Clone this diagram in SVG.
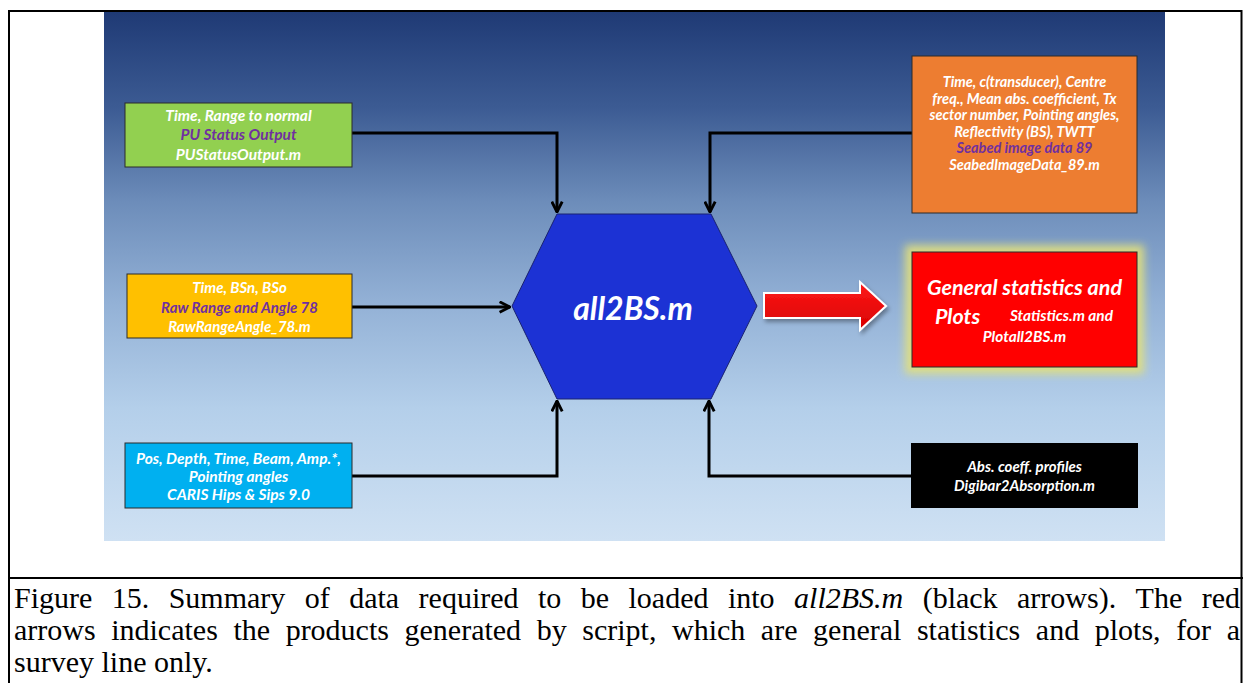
<svg xmlns="http://www.w3.org/2000/svg" width="1243" height="683" viewBox="0 0 1243 683">
  <defs>
    <linearGradient id="sky" x1="0" y1="12" x2="0" y2="541" gradientUnits="userSpaceOnUse">
      <stop offset="0" stop-color="#1f3a75"/>
      <stop offset="0.18" stop-color="#3c5b93"/>
      <stop offset="0.36" stop-color="#6d8dba"/>
      <stop offset="0.55" stop-color="#93b1d6"/>
      <stop offset="0.75" stop-color="#b4cfea"/>
      <stop offset="1" stop-color="#cfe1f3"/>
    </linearGradient>
    <linearGradient id="redFill" x1="0" y1="0" x2="0" y2="1">
      <stop offset="0" stop-color="#ff1a1a"/>
      <stop offset="1" stop-color="#d80000"/>
    </linearGradient>
    <filter id="glow" x="-20%" y="-20%" width="140%" height="140%">
      <feGaussianBlur stdDeviation="4"/>
    </filter>
    <filter id="shadow" x="-10%" y="-20%" width="130%" height="160%">
      <feDropShadow dx="2" dy="3" stdDeviation="2" flood-color="#000" flood-opacity="0.35"/>
    </filter>
    <marker id="chev" viewBox="0 0 10 10" refX="9" refY="5" markerWidth="13" markerHeight="13" markerUnits="userSpaceOnUse" orient="auto">
      <path d="M1,1 L9,5 L1,9" fill="none" stroke="#000" stroke-width="2.2"/>
    </marker>
  </defs>
  <style>
    .box { stroke: #2b2b2b; stroke-width: 1; }
    .lbl { font-family: Lato, "Open Sans", "Liberation Sans", sans-serif; font-weight: 700; font-style: italic; font-size: 15px; text-anchor: middle; fill: #ffffff; }
    .pur { fill: #7030a0; }
    .wire { fill: none; stroke: #000; stroke-width: 3; marker-end: url(#chev); }
    .cap { font-family: "Liberation Serif", "Times New Roman", serif; font-size: 30px; fill: #000; }
  </style>

  <!-- table cell frame -->
  <rect x="0" y="0" width="1243" height="683" fill="#ffffff"/>
  <path d="M9,683 V11 H1241.5 V683 M9,578 H1243" fill="none" stroke="#000" stroke-width="2"/>

  <!-- slide background -->
  <rect x="104" y="12" width="1061" height="529" fill="url(#sky)"/>

  <!-- connectors -->
  <g id="connectors">
    <path class="wire" d="M352,133 H557 V212"/>
    <path class="wire" d="M912,133 H710 V212"/>
    <path class="wire" d="M352,307 H510"/>
    <path class="wire" d="M352,476 H557 V401"/>
    <path class="wire" d="M911,476 H709 V401"/>
    <path d="M764,293 H860 V282 L886,306 L860,330 V318 H764 Z" fill="url(#redFill)" stroke="#ffffff" stroke-width="2" filter="url(#shadow)"/>
  </g>

  <g id="pu-status">
    <rect class="box" x="125" y="103" width="227" height="64" fill="#92d050"/>
    <text class="lbl" style="font-size:15.5px"><tspan x="238.5" y="120.5">Time, Range to normal</tspan><tspan class="pur" x="238.5" y="139.5">PU Status Output</tspan><tspan x="238.5" y="159.5">PUStatusOutput.m</tspan></text>
  </g>

  <g id="raw-range">
    <rect class="box" x="127" y="274" width="225" height="64" fill="#ffc000"/>
    <text class="lbl"><tspan x="239.5" y="292.5">Time, BSn, BSo</tspan><tspan class="pur" x="239.5" y="312.5">Raw Range and Angle 78</tspan><tspan x="239.5" y="331.5">RawRangeAngle_78.m</tspan></text>
  </g>

  <g id="caris">
    <rect class="box" x="125" y="443" width="227" height="65" fill="#00b0f0"/>
    <text class="lbl" style="font-size:15.5px"><tspan x="238.5" y="463.5">Pos, Depth, Time, Beam, Amp.*,</tspan><tspan x="238.5" y="481.5">Pointing angles</tspan><tspan x="238.5" y="499.5">CARIS Hips &amp; Sips 9.0</tspan></text>
  </g>

  <g id="seabed-image">
    <rect class="box" x="912" y="56" width="225" height="157" fill="#ed7d31"/>
    <text class="lbl" style="font-size:14.5px"><tspan x="1024.5" y="87.25">Time, c(transducer), Centre</tspan><tspan x="1024.5" y="103.75">freq., Mean abs. coefficient, Tx</tspan><tspan x="1024.5" y="120.25">sector number, Pointing angles,</tspan><tspan x="1024.5" y="136.75">Reflectivity (BS), TWTT</tspan><tspan class="pur" x="1024.5" y="153.25">Seabed image data 89</tspan><tspan x="1024.5" y="169.75">SeabedImageData_89.m</tspan></text>
  </g>

  <g id="absorption">
    <rect x="911" y="443" width="227" height="65" fill="#000000"/>
    <text class="lbl"><tspan x="1024.5" y="471.5">Abs. coeff. profiles</tspan><tspan x="1024.5" y="490.5">Digibar2Absorption.m</tspan></text>
  </g>

  <g id="all2bs">
    <polygon points="512,306 557,214 711,214 757,306 711,399 557,399" fill="#1c32d4" stroke="#1a2270" stroke-width="1"/>
    <text class="lbl" x="633" y="319.5" style="font-size:32px">all2BS.m</text>
  </g>

  <g id="statistics">
    <rect x="905" y="245" width="239" height="129" fill="#e2e07c" opacity="0.9" filter="url(#glow)"/>
    <rect class="box" x="912" y="252" width="225" height="115" fill="#ff0000"/>
    <text class="lbl" style="font-size:21.5px"><tspan x="1024.5" y="294.5">General statistics and</tspan><tspan x="935" y="323.5" style="text-anchor:start">Plots</tspan><tspan x="1010" y="321" style="text-anchor:start;font-size:15.4px">Statistics.m and</tspan><tspan x="1024.5" y="341.5" style="font-size:15.4px">Plotall2BS.m</tspan></text>
  </g>

  <!-- caption, justified word by word -->
  <g id="caption" class="cap">
    <text y="608"><tspan x="14">Figure</tspan><tspan x="111.76">15.</tspan><tspan x="168.69">Summary</tspan><tspan x="304.79">of</tspan><tspan x="349.21">data</tspan><tspan x="418.62">required</tspan><tspan x="538.01">to</tspan><tspan x="580.78">be</tspan><tspan x="628.53">loaded</tspan><tspan x="727.94">into</tspan><tspan x="794.05" font-style="italic">all2BS.m</tspan><tspan x="922.65">(black</tspan><tspan x="1017.05">arrows).</tspan><tspan x="1135.6">The</tspan><tspan x="1201.68">red</tspan></text>
    <text y="640"><tspan x="14">arrows</tspan><tspan x="111.2">indicates</tspan><tspan x="233.41">the</tspan><tspan x="285.64">products</tspan><tspan x="404.52">generated</tspan><tspan x="536.7">by</tspan><tspan x="582.26">script,</tspan><tspan x="671.99">which</tspan><tspan x="760.87">are</tspan><tspan x="813.07">general</tspan><tspan x="916.92">statistics</tspan><tspan x="1035.84">and</tspan><tspan x="1094.72">plots,</tspan><tspan x="1176.14">for</tspan><tspan x="1226.68">a</tspan></text>
    <text x="14" y="672">survey line only.</text>
  </g>
</svg>
